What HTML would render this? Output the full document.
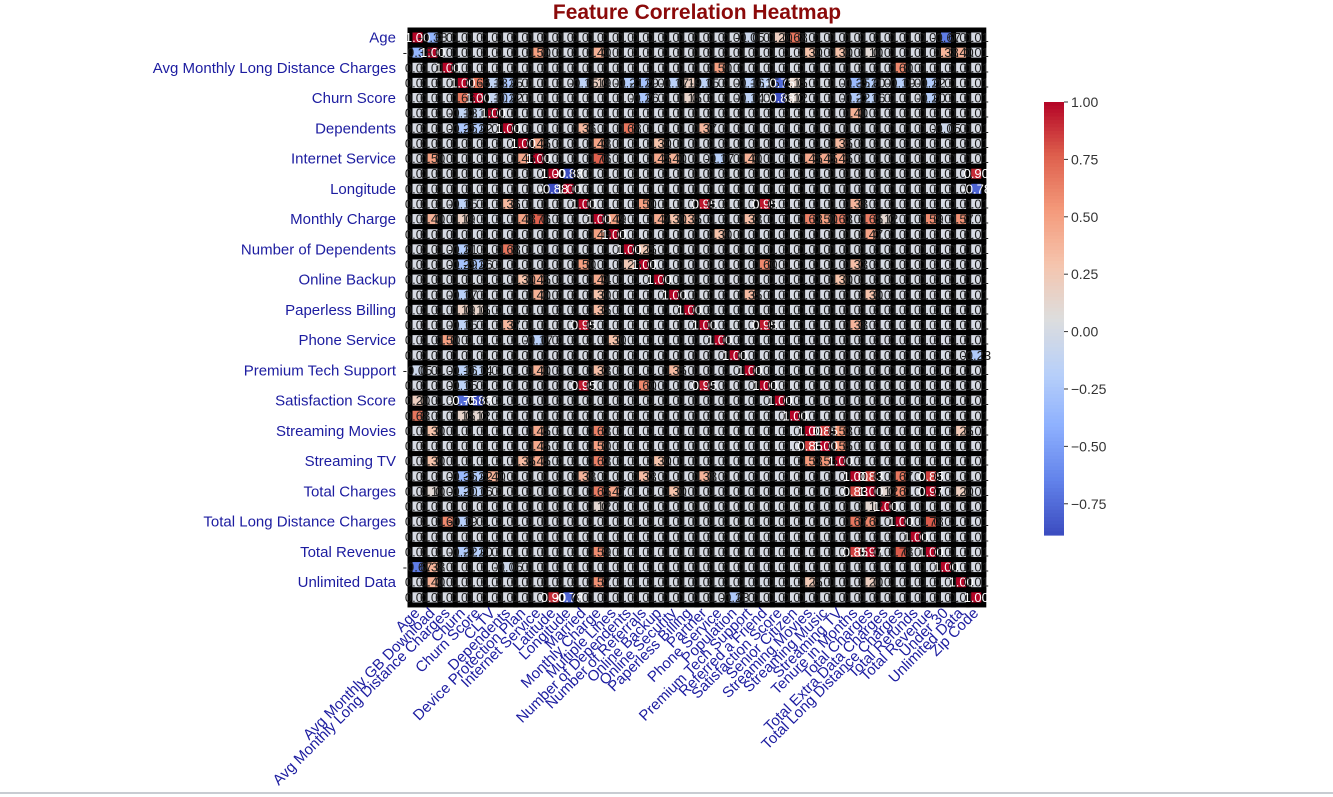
<!DOCTYPE html>
<html><head><meta charset="utf-8"><style>
html,body{margin:0;padding:0;background:#fff;width:1333px;height:797px;overflow:hidden}
svg{display:block}
</style></head><body>
<svg id="chart" width="1333" height="797" xmlns="http://www.w3.org/2000/svg" font-family="Liberation Sans, Arial, sans-serif">
<text x="697" y="19" text-anchor="middle" font-size="21" font-weight="bold" fill="#8b0a0a">Feature Correlation Heatmap</text>
<g id="cells"></g>
<g id="ylabels"></g>
<g id="xlabels"></g>
<g id="cbar"></g>
<line x1="0" y1="793" x2="1333" y2="793" stroke="#c8ccd2" stroke-width="2"/>
</svg>
<script>
const features = ["Age","Avg Monthly GB Download","Avg Monthly Long Distance Charges","Churn","Churn Score","CLTV","Dependents","Device Protection Plan","Internet Service","Latitude","Longitude","Married","Monthly Charge","Multiple Lines","Number of Dependents","Number of Referrals","Online Backup","Online Security","Paperless Billing","Partner","Phone Service","Population","Premium Tech Support","Referred a Friend","Satisfaction Score","Senior Citizen","Streaming Movies","Streaming Music","Streaming TV","Tenure in Months","Total Charges","Total Extra Data Charges","Total Long Distance Charges","Total Refunds","Total Revenue","Under 30","Unlimited Data","Zip Code"];
const pairA = [0,0,0,1,1,1,1,1,2,2,3,3,3,3,3,3,3,3,3,3,3,3,3,3,3,3,4,4,4,4,4,4,4,4,4,5,5,5,6,6,6,7,7,7,8,8,8,8,8,8,8,8,8,8,9,9,10,11,11,11,11,12,12,12,12,12,12,12,12,12,12,12,12,12,12,12,13,13,15,15,15,19,19,26,26,27,29,29,29,29,29,29,30,30,30,30,32,32,30,16,16,17,17,21,6,0,0,36,36];
const pairB = [1,25,35,8,35,36,26,28,20,32,4,6,14,15,11,19,23,17,22,18,25,29,30,34,32,24,24,6,15,29,34,30,18,25,22,29,4,3,14,19,11,12,16,28,12,1,26,27,28,7,16,17,22,20,10,37,37,19,23,15,29,26,28,27,13,16,7,22,17,18,36,30,34,1,31,3,20,30,23,29,14,23,29,27,28,28,30,34,32,5,15,11,34,32,36,31,34,2,1,7,28,22,30,37,35,22,24,1,26];
const pairR = [-0.38,0.68,-0.67,0.5,0.38,0.4,0.3,0.3,0.5,0.6,0.66,-0.25,-0.21,-0.29,-0.15,-0.15,-0.15,-0.17,-0.16,0.19,0.15,-0.35,-0.2,-0.22,-0.19,-0.75,-0.88,-0.22,-0.26,-0.22,-0.2,-0.16,0.15,0.12,-0.14,0.4,-0.1,-0.13,0.68,0.37,0.36,0.48,0.3,0.35,0.76,0.5,0.45,0.45,0.45,0.45,0.45,0.4,0.4,-0.17,-0.88,0.9,-0.78,0.95,0.95,0.5,0.38,0.63,0.63,0.5,0.49,0.44,0.48,0.33,0.3,0.35,0.57,0.65,0.59,0.4,0.12,0.19,0.3,0.47,0.6,0.33,0.25,0.95,0.38,0.85,0.53,0.55,0.83,0.85,0.67,0.4,0.33,0.38,0.97,0.61,0.2,0.12,0.78,0.6,0.1,0.3,0.3,0.35,0.3,-0.23,-0.05,-0.05,0.2,0.4,0.25];
const cbarTicks = [1.0,0.75,0.5,0.25,0.0,-0.25,-0.5,-0.75];
const defaultR = 0.01;

const N = features.length;
const x0 = 410, y0 = 30, cw = 15.1, ch = 15.13;
const vmin = -0.886, vmax = 1.0;
const NS = "http://www.w3.org/2000/svg";

const M = [];
for (let i = 0; i < N; i++) { M.push([]); for (let j = 0; j < N; j++) M[i].push(i === j ? 1 : defaultR); }
for (let k = 0; k < pairA.length; k++) { M[pairA[k]][pairB[k]] = pairR[k]; M[pairB[k]][pairA[k]] = pairR[k]; }

const cmapStops = [[0,[59,76,192]],[0.125,[98,130,234]],[0.25,[141,176,254]],[0.375,[184,208,249]],[0.5,[221,221,221]],[0.625,[245,196,173]],[0.75,[244,154,123]],[0.875,[222,96,77]],[1,[180,4,38]]];
function cmap(t){
  t = Math.max(0, Math.min(1, t));
  for (let k = 1; k < cmapStops.length; k++) {
    if (t <= cmapStops[k][0]) {
      const a = cmapStops[k-1], b = cmapStops[k];
      const f = (t - a[0]) / (b[0] - a[0]);
      return a[1].map((c, m) => Math.round(c + (b[1][m] - c) * f));
    }
  }
  return cmapStops[cmapStops.length-1][1];
}
function norm(v){ return (v - vmin) / (vmax - vmin); }
function xPos(j){ return x0 + j * cw; }
function yPos(i){ return y0 + i * ch; }
function mk(tag, attrs){ const e = document.createElementNS(NS, tag); for (const k in attrs) e.setAttribute(k, attrs[k]); return e; }

const cells = document.getElementById('cells');
const txtG = mk('g', {});
for (let i = 0; i < N; i++) {
  for (let j = 0; j < N; j++) {
    const v = M[i][j];
    const c = cmap(norm(v));
    const r = mk('rect', {x: xPos(j), y: yPos(i), width: cw, height: ch, fill: `rgb(${c[0]},${c[1]},${c[2]})`, stroke: '#000', 'stroke-width': 5});
    
    
    cells.appendChild(r);
    const lum = (0.299*c[0] + 0.587*c[1] + 0.114*c[2]) / 255;
    const t = mk('text', {x: xPos(j) + cw/2, y: yPos(i) + ch/2 + 4.5, 'text-anchor': 'middle', 'font-size': 13, fill: lum < 0.45 ? '#ffffff' : '#1e1e1e'});
    
    
    t.textContent = v.toFixed(2);
    txtG.appendChild(t);
  }
}
cells.appendChild(txtG);

const yl = document.getElementById('ylabels');
for (let i = 0; i < N; i += 2) {
  const t = mk('text', {x: 396, y: yPos(i) + ch/2 + 5, 'text-anchor': 'end', 'font-size': 15, fill: '#1c1ca0'});
  
  
  t.textContent = features[i];
  yl.appendChild(t);
}
const xl = document.getElementById('xlabels');
for (let j = 0; j < N; j++) {
  const cx = xPos(j) + cw/2 + 3, cy = 614;
  const t = mk('text', {x: cx, y: cy, 'text-anchor': 'end', 'font-size': 15, fill: '#1c1ca0', transform: `rotate(-45 ${cx} ${cy})`});
  
  
  t.textContent = features[j];
  xl.appendChild(t);
}

const cb = document.getElementById('cbar');
const cbX = 1044, cbW = 20, cbTop = 102, cbBot = 535;
const steps = 120;
for (let k = 0; k < steps; k++) {
  const t = 1 - (k + 0.5) / steps;
  const c = cmap(t);
  const r = mk('rect', {x: cbX, y: cbTop + k * (cbBot - cbTop) / steps, width: cbW, height: (cbBot - cbTop) / steps + 0.6, fill: `rgb(${c[0]},${c[1]},${c[2]})`});
  
  
  cb.appendChild(r);
}
function cbY(v){ return cbTop + (vmax - v) / (vmax - vmin) * (cbBot - cbTop); }
cbarTicks.forEach(v => {
  const y = cbY(v);
  const l = mk('line', {x1: cbX + cbW, x2: cbX + cbW + 4, y1: y, y2: y, stroke: '#333', 'stroke-width': 1});
  
  
  cb.appendChild(l);
  const t = mk('text', {x: cbX + cbW + 7, y: y + 5, 'font-size': 14, fill: '#333'});
  
  
  t.textContent = (v < 0 ? '\u2212' + Math.abs(v).toFixed(2) : v.toFixed(2));
  cb.appendChild(t);
});
</script>
</body></html>
